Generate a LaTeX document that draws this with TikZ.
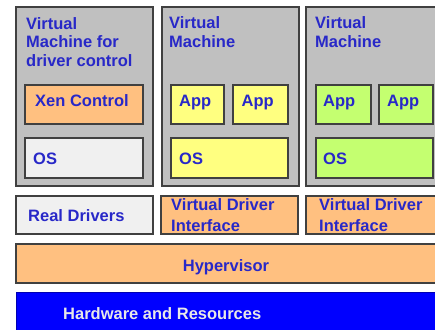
\documentclass[tikz,border=0pt]{standalone}
\usepackage{fontspec}
\setmainfont{Liberation Sans}
\usetikzlibrary{fit}
\definecolor{vmgray}{RGB}{192,192,192}
\definecolor{edgegray}{RGB}{64,64,64}
\definecolor{peach}{RGB}{255,192,128}
\definecolor{lightos}{RGB}{240,240,240}
\definecolor{lyellow}{RGB}{255,255,128}
\definecolor{lgreen}{RGB}{196,255,112}
\definecolor{txtblue}{RGB}{40,40,200}
\definecolor{hwblue}{RGB}{0,0,255}
\definecolor{hwtext}{RGB}{232,232,232}
\tikzset{
  box/.style={draw=edgegray, line width=1.6pt, inner sep=0pt},
  vmbox/.style={box, fill=vmgray},
  lbl/.style={anchor=base west, inner sep=0pt, text=txtblue,
    font=\fontsize{16.5}{18.5}\selectfont\bfseries, align=left},
}
\begin{document}
\begin{tikzpicture}[x=1pt,y=-1pt]
\clip (0,0) rectangle (435,329);
\fill[white] (0,0) rectangle (435,329);
% virtual machines
\node[vmbox, fit={(16,7) (153,186)}] (vm1) {};
\node[vmbox, fit={(162,7) (299,186)}] (vm2) {};
\node[vmbox, fit={(306,7) (450,186)}] (vm3) {};
% inner boxes
\node[box, fill=peach, fit={(25,85) (143,124)}] (xen) {};
\node[box, fill=lightos, fit={(25,138) (143,178)}] (os1) {};
\node[box, fill=lyellow, fit={(171,85) (224,124)}] (app2a) {};
\node[box, fill=lyellow, fit={(233,85) (288,124)}] (app2b) {};
\node[box, fill=lyellow, fit={(171,138) (288,178)}] (os2) {};
\node[box, fill=lgreen, fit={(316,85) (371,124)}] (app3a) {};
\node[box, fill=lgreen, fit={(379,85) (433,124)}] (app3b) {};
\node[box, fill=lgreen, fit={(316,138) (433,178)}] (os3) {};
% lower layers
\node[box, fill=lightos, fit={(16,196) (153,234)}] (real) {};
\node[box, fill=peach, fit={(161,196) (298,234)}] (vdi1) {};
\node[box, fill=peach, fit={(306,196) (450,234)}] (vdi2) {};
\node[box, fill=peach, fit={(16,244) (450,283)}] (hyp) {};
\node[draw=hwblue!70!black, line width=1pt, fill=hwblue, inner sep=0pt, fit={(16,292) (450,340)}] (hw) {};
% labels
\node[lbl] (t1a) at (26,29.5) {Virtual};
\node[lbl] (t1b) at (26,48) {Machine for};
\node[lbl] (t1c) at (26,66.5) {driver control};
\node[lbl] (t2a) at (169,28.5) {Virtual};
\node[lbl] (t2b) at (169,47.5) {Machine};
\node[lbl] (t3a) at (315,28.5) {Virtual};
\node[lbl] (t3b) at (315,47.5) {Machine};
\node[lbl] (txen) at (35,106) {Xen Control};
\node[lbl] (tos1) at (33,164) {OS};
\node[lbl] (tapp2a) at (179,106) {App};
\node[lbl] (tapp2b) at (241.5,106) {App};
\node[lbl] (tos2) at (179,164) {OS};
\node[lbl] (tapp3a) at (323,106) {App};
\node[lbl] (tapp3b) at (387,106) {App};
\node[lbl] (tos3) at (323,164) {OS};
\node[lbl] (treal) at (28,221.5) {Real Drivers};
\node[lbl] (tvdi1a) at (171,210.5) {Virtual Driver};
\node[lbl] (tvdi1b) at (171,231.5) {Interface};
\node[lbl] (tvdi2a) at (319,210.5) {Virtual Driver};
\node[lbl] (tvdi2b) at (319,231.5) {Interface};
\node[lbl, anchor=base] (thyp) at (226,271) {Hypervisor};
\node[lbl, text=hwtext] (thw) at (63,319.3) {Hardware and Resources};
\end{tikzpicture}
\end{document}
